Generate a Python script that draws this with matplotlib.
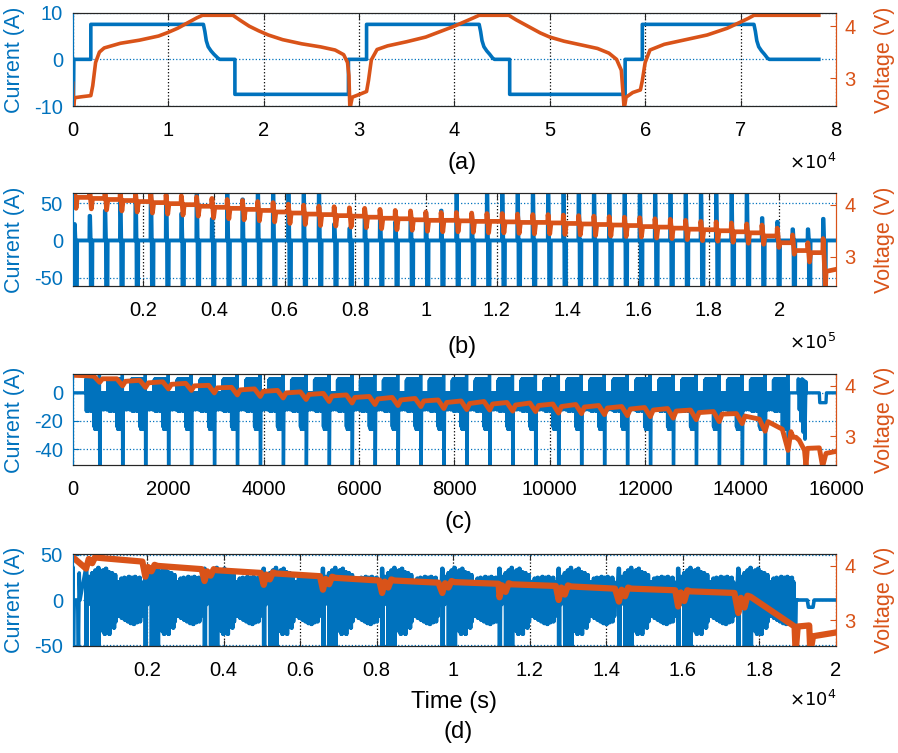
import numpy as np
import matplotlib.pyplot as plt
from matplotlib.ticker import FuncFormatter

plt.rcParams['font.family'] = ['Liberation Sans', 'DejaVu Sans']
plt.rcParams['axes.unicode_minus'] = False

BLUE = '#0072BD'
ORANGE = '#D95319'
DARK = '#262626'

# ---------------- (a) CC-CV cycles (time in 1e4 s) ----------------
a_i_time = [0, 0.003, 0.008, 0.012, 0.19, 0.19, 1.37, 1.385, 1.40, 1.42, 1.45, 1.48, 1.52, 1.54,
            1.70, 1.70, 2.89, 2.89, 3.08, 3.08, 4.26, 4.275, 4.29, 4.31, 4.34, 4.37, 4.40, 4.42,
            4.58, 4.58, 5.79, 5.79, 5.97, 5.97, 7.14, 7.155, 7.17, 7.19, 7.22, 7.25, 7.28, 7.30, 7.82]
a_i_val = [0, -10, -10, 0, 0, 7.5, 7.5, 6.0, 4.0, 2.7, 1.8, 1.1, 0.3, 0,
           0, -7.5, -7.5, 0, 0, 7.5, 7.5, 6.0, 4.0, 2.7, 1.8, 1.1, 0.3, 0,
           0, -7.5, -7.5, 0, 0, 7.5, 7.5, 6.0, 4.0, 2.7, 1.8, 1.1, 0.3, 0, 0]
a_v_time = [0, 0.008, 0.02, 0.10, 0.19, 0.21, 0.24, 0.28, 0.33, 0.5, 0.7, 0.9, 1.0, 1.1, 1.2,
            1.3, 1.36, 1.68, 1.75, 1.85, 1.95, 2.05, 2.2, 2.4, 2.6, 2.75, 2.84, 2.88, 2.895, 2.905,
            2.93, 3.0, 3.08, 3.10, 3.13, 3.19, 3.3, 3.5, 3.7, 3.9, 4.0, 4.1, 4.2, 4.26, 4.57,
            4.65, 4.75, 4.9, 5.0, 5.15, 5.3, 5.5, 5.62, 5.70, 5.75, 5.78, 5.80, 5.87, 5.95, 5.97,
            6.0, 6.05, 6.2, 6.4, 6.65, 6.86, 7.0, 7.08, 7.14, 7.82]
a_v_val = [2.90, 2.40, 2.62, 2.64, 2.66, 2.85, 3.30, 3.50, 3.58, 3.67, 3.73, 3.81, 3.88, 3.96, 4.06,
           4.16, 4.21, 4.21, 4.12, 4.00, 3.91, 3.83, 3.74, 3.66, 3.60, 3.54, 3.45, 3.30, 3.05, 2.40,
           2.63, 2.68, 2.74, 2.95, 3.35, 3.55, 3.62, 3.70, 3.79, 3.93, 4.00, 4.08, 4.16, 4.21, 4.21,
           4.12, 4.02, 3.87, 3.79, 3.71, 3.65, 3.57, 3.48, 3.36, 3.15, 2.40, 2.63, 2.72, 2.77, 2.95,
           3.30, 3.54, 3.65, 3.73, 3.83, 3.96, 4.08, 4.15, 4.21, 4.21]

# ---------------- (b) pulse test ----------------
b_pulse_t = [850, 5174, 9498, 13822, 18146, 22470, 26794, 31118, 35442, 39766,
             44090, 48414, 52738, 57062, 61386, 65710, 70034, 74358, 78682, 83006,
             87330, 91654, 95978, 100302, 104626, 108950, 113274, 117598, 121922, 126246,
             130570, 134894, 139218, 143542, 147866, 152190, 156514, 160838, 165162, 169486,
             173810, 178134, 182458, 186782, 191106, 195430, 199754, 204078, 208402, 212726]
b_i_peak = [22, 33, 40, 55, 64, 64, 64, 36, 64, 29,
            64, 55, 64, 64, 64, 64, 64, 22, 16, 40,
            30, 25, 33, 37, 40, 64, 35, 64, 64, 64,
            64, 64, 64, 64, 64, 64, 64, 64, 64, 64,
            64, 64, 64, 64, 64, 30, 25, 15, 15, 29]
b_v_base = [4.15, 4.14, 4.12, 4.10, 4.08, 4.06, 4.04, 4.02, 4.00, 3.97,
            3.95, 3.93, 3.91, 3.89, 3.86, 3.84, 3.82, 3.81, 3.79, 3.78,
            3.76, 3.74, 3.73, 3.71, 3.70, 3.70, 3.69, 3.68, 3.68, 3.67,
            3.66, 3.66, 3.65, 3.64, 3.63, 3.62, 3.61, 3.60, 3.58, 3.57,
            3.55, 3.53, 3.52, 3.50, 3.48, 3.46, 3.40, 3.27, 3.12, 3.08]
b_v_tail_t = [213000, 213200, 216000]
b_v_tail_v = [2.40, 2.72, 2.76]

# ---------------- (c) repeated discharge profile ----------------
c_first_active = 280
c_cycle_start = [100, 581, 1062, 1543, 2024, 2505, 2986, 3467, 3948, 4429, 4910, 5391, 5872,
                 6353, 6834, 7315, 7796, 8277, 8758, 9239, 9720, 10201, 10682, 11163, 11644,
                 12125, 12606, 13087, 13568, 14049, 14530]
c_up = [0, 0, 0, 0, 0, 0, 0, 0, 9, 10, 8, 10, 9, 10, 8, 10, 9, 10, 9, 10, 8, 10, 9]
c_lo = [-10, -12, -9, -12, -11, -10, -12, -11, -12, -13, -10, -13, -12, -11, -13, -12, -12,
        -24, -26, -23, -26, -25, -26]
c_tail_t = [15011, 15200, 15210, 15230, 15250, 15270, 15290, 15310, 15330, 15350, 15370, 15380,
            15650, 15660, 15790, 15800, 16000]
c_tail_i = [0, 0, 10, -12, 9, -20, 10, -28, 9, -33, 8, 0, 0, -7, -7, 0, 0]
c_v = [4.17, 4.12, 4.09, 4.06, 4.03, 3.99, 3.95, 3.92, 3.89, 3.86, 3.83, 3.80, 3.77, 3.75,
       3.73, 3.70, 3.68, 3.67, 3.65, 3.64, 3.62, 3.61, 3.59, 3.57, 3.55, 3.53, 3.50, 3.47,
       3.43, 3.32, 3.12]
c_dip = [0.10, 0.12, 0.12, 0.12, 0.12, 0.13, 0.13, 0.13, 0.13, 0.13, 0.14, 0.14, 0.14, 0.14,
         0.14, 0.15, 0.15, 0.15, 0.15, 0.15, 0.16, 0.16, 0.16, 0.16, 0.16, 0.17, 0.17, 0.18,
         0.18, 0.22, 0.40]
c_v_tail_t = [15100, 15160, 15230, 15340, 15371, 15400, 15650, 15720, 15790, 16000]
c_v_tail_v = [2.98, 2.98, 2.92, 2.72, 2.40, 2.76, 2.77, 2.40, 2.66, 2.70]

# ---------------- (d) drive cycles ----------------
d_seg_start = [400, 1948, 3494, 5040, 6587, 8133, 9706, 11200, 12746, 14319, 15866, 17438]
d_up = [35, 20, 26, 24, 30, 22, 33, 28, 36, 30, 28, 33, 30, 35, 29, 31, 27, 30, 25,
        28, 17, 20, 18, 24, 22, 25, 21, 24, 26, 22, 25, 23, 26, 24, 22, 25, 20]
d_lo = [-52, -5, 0, 2, -52, -10, -52, -30, -52, -33, -28, -35, -38, -36, -32, -38, -30, -28, -31,
        -24, -15, -18, -14, -20, -17, -22, -19, -24, -20, -26, -23, -27, -22, -25, -21, -24, -18]
d_pre_t = [0, 50, 60, 80, 100, 190, 210, 230, 250]
d_pre_i = [0, 0, 37, -52, 0, 0, -52, 30, 0]
d_tail_t = [18930, 18940, 18960, 19250, 19280, 19400, 19430, 20000]
d_tail_i = [0, -52, 0, 0, -8, -8, 0, 0]
d_v_dip = [3.95, 3.80, 3.72, 3.65, 3.56, 3.50, 3.50, 3.42, 3.37, 3.34, 3.25, 3.13]
d_v_a = [4.17, 4.02, 3.94, 3.88, 3.80, 3.75, 3.72, 3.68, 3.64, 3.60, 3.55, 3.45]
d_v_b = [4.08, 3.94, 3.87, 3.81, 3.73, 3.69, 3.67, 3.63, 3.58, 3.55, 3.50, 2.88]
d_v_tail_t = [18945, 19000, 19300, 19330, 19400, 20000]
d_v_tail_v = [2.40, 2.88, 2.90, 2.40, 2.70, 2.77]

# ---------------- build traces ----------------
bt, bi = [0], [0]
bvt, bvv = [0], [b_v_base[0]]
for k, (t0, pk, v0) in enumerate(zip(b_pulse_t, b_i_peak, b_v_base)):
    bt += [t0 - 450, t0 - 400, t0 - 250, t0 - 100, t0 - 50, t0 + 350, t0 + 400]
    bi += [0, pk, pk, 3, -62, -62, 0]
    if k + 1 < len(b_v_base):
        bvt += [t0 - 460, t0 - 380, t0 - 150, t0 + 100, t0 + 450]
        bvv += [v0, v0 + 0.15, v0, v0 - 0.22, b_v_base[k + 1]]
    else:
        bvt += [t0 - 460, t0 - 380, t0 - 150]
        bvv += [v0, v0 + 0.27, v0]
bt += [216000]
bi += [0]
bvt += b_v_tail_t
bvv += b_v_tail_v

ct, ci = [0, 275], [0, 0]
cvt, cvv = [0, 300], [4.21, 4.20]
for s, v, dp in zip(c_cycle_start, c_v, c_dip):
    for j, (u, lo) in enumerate(zip(c_up, c_lo)):
        t0 = s + j * 20
        if t0 < c_first_active:
            continue
        ct += [t0, t0 + 5, t0 + 10, t0 + 15]
        ci += [u, lo, u, lo]
    ct += [s + 460, s + 466, s + 472]
    ci += [15, -55, -55]
    sp = s + 465
    cvt += [sp - 120, sp, sp + 60]
    cvv += [v + 0.02, v - dp, v - 0.03]
ct += c_tail_t
ci += c_tail_i
cvt += c_v_tail_t
cvv += c_v_tail_v

dt, di = list(d_pre_t), list(d_pre_i)
dvt, dvv = [0], [4.20]
for s, vd, va, vb in zip(d_seg_start, d_v_dip, d_v_a, d_v_b):
    for j, (u, lo) in enumerate(zip(d_up, d_lo)):
        t0 = s + j * 40
        dt += [t0, t0 + 10, t0 + 20, t0 + 30]
        di += [u, lo, u, lo]
    dt += [s + 1480, s + 1540]
    di += [0, 0]
    dvt += [s + 10, s + 80, s + 170, s + 250, s + 330, s + 1480]
    dvv += [vd, va - 0.04, vd + 0.1, va, va - 0.02, vb]
dt += d_tail_t
di += d_tail_i
dvt += d_v_tail_t
dvv += d_v_tail_v

# ---------------- figure ----------------
fig = plt.figure(figsize=(8.98, 7.53), dpi=100)
W, H = 898, 753
boxes = [(12.7, 106), (192.7, 286), (374, 465), (554, 646)]
TICK = 14.5


def make_axes(top, bot):
    ax = fig.add_axes([72.7 / W, 1 - bot / H, 763.3 / W, (bot - top) / H])
    ax2 = ax.twinx()
    ax.grid(axis='x', color='k', ls=':', lw=0.9)
    ax.grid(axis='y', color=BLUE, ls=':', lw=0.9)
    ax.set_axisbelow(True)
    for a in (ax, ax2):
        a.spines['top'].set_color(DARK)
        a.spines['bottom'].set_color(DARK)
        a.spines['left'].set_color(BLUE)
        a.spines['right'].set_color(ORANGE)
    ax.tick_params(axis='x', direction='in', length=4, top=True, colors=DARK,
                   labelcolor='k', labelsize=TICK, pad=11)
    ax.tick_params(axis='y', direction='in', length=4, colors=BLUE, labelsize=TICK, pad=7)
    ax2.tick_params(axis='y', direction='in', length=4, colors=ORANGE, labelsize=TICK, pad=6)
    ax.set_ylabel('Current (A)', color=BLUE, fontsize=15.5)
    ax2.set_ylabel('Voltage (V)', color=ORANGE, fontsize=15.5)
    ax.yaxis.set_label_coords(-0.062, 0.5)
    ax2.yaxis.set_label_coords(1.05, 0.5)
    return ax, ax2


# (a)
ax, ax2 = make_axes(*boxes[0])
ax.plot(np.array(a_i_time) * 1e4, a_i_val, color=BLUE, lw=2.6)
ax2.plot(np.array(a_v_time) * 1e4, a_v_val, color=ORANGE, lw=2.6)
ax.set_xlim(0, 8e4)
ax.set_xticks(np.arange(0, 8.01e4, 1e4))
ax.xaxis.set_major_formatter(FuncFormatter(lambda v, p: f'{v / 1e4:g}'))
ax.set_ylim(-10, 10)
ax.set_yticks([-10, 0, 10])
ax2.set_ylim(2.46, 4.26)
ax2.set_yticks([3, 4])

# (b)
ax, ax2 = make_axes(*boxes[1])
ax.plot(bt, bi, color=BLUE, lw=2.8)
ax2.plot(bvt, bvv, color=ORANGE, lw=3.4)
ax.set_xlim(0, 2.16e5)
ax.set_xticks(np.arange(0.2e5, 2.01e5, 0.2e5))
ax.xaxis.set_major_formatter(FuncFormatter(lambda v, p: f'{v / 1e5:g}'))
ax.set_ylim(-61, 64)
ax.set_yticks([-50, 0, 50])
ax2.set_ylim(2.44, 4.23)
ax2.set_yticks([3, 4])

# (c)
ax, ax2 = make_axes(*boxes[2])
ax.plot(ct, ci, color=BLUE, lw=2.4)
ax2.plot(cvt, cvv, color=ORANGE, lw=3.5)
ax.set_xlim(0, 16000)
ax.set_xticks(np.arange(0, 16001, 2000))
ax.set_ylim(-51.3, 13.4)
ax.set_yticks([-40, -20, 0])
ax2.set_ylim(2.43, 4.235)
ax2.set_yticks([3, 4])

# (d)
ax, ax2 = make_axes(*boxes[3])
ax.plot(dt, di, color=BLUE, lw=2.6)
ax2.plot(dvt, dvv, color=ORANGE, lw=4.5)
ax.set_xlim(60, 20000)
ax.set_xticks(np.arange(2000, 20001, 2000))
ax.xaxis.set_major_formatter(FuncFormatter(lambda v, p: f'{v / 1e4:g}'))
ax.set_ylim(-51, 51)
ax.set_yticks([-50, 0, 50])
ax2.set_ylim(2.52, 4.22)
ax2.set_yticks([3, 4])
ax.set_xlabel('Time (s)', fontsize=17, labelpad=8)

# offset texts and panel labels
for y, txt in [(163, r'$\times10^{4}$'), (343, r'$\times10^{5}$'), (700, r'$\times10^{4}$')]:
    fig.text(836 / W, 1 - y / H, txt, ha='right', va='center', fontsize=13)
for x, y, lab in [(462, 163, '(a)'), (462, 347, '(b)'), (458, 522, '(c)'), (458, 732, '(d)')]:
    fig.text(x / W, 1 - y / H, lab, ha='center', va='center', fontsize=17)

fig.savefig('out.png', dpi=100)
